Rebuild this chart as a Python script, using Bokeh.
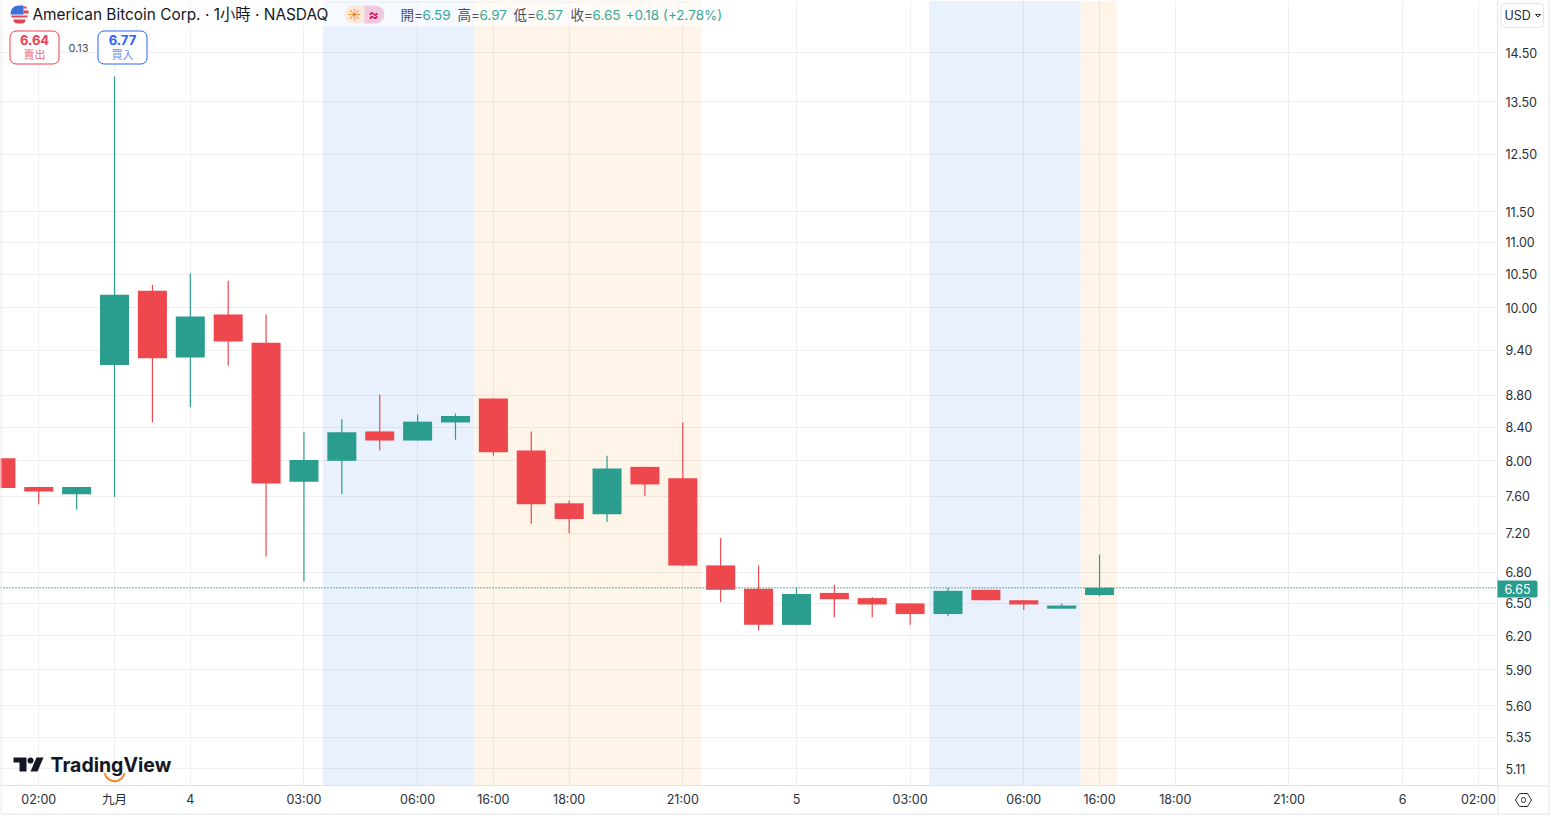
from bokeh.embed import file_html
from bokeh.models import BoxAnnotation, ColumnDataSource, FixedTicker, Label, PolyAnnotation, PrintfTickFormatter, Range1d
from bokeh.plotting import figure
from bokeh.resources import INLINE

bar_index = list(range(30))
opens = [8.03, 7.70, 7.62, 9.20, 9.29, 9.30, 9.52, 9.50, 7.76, 8.00, 8.35, 8.24, 8.46, 8.76, 8.12, 7.52, 7.40, 7.93, 7.80, 6.87,
         6.64, 6.30, 6.60, 6.55, 6.50, 6.40, 6.63, 6.53, 6.45, 6.58]
highs = [8.03, 7.70, 7.70, 14.00, 10.34, 10.51, 10.40, 9.90, 8.34, 8.50, 8.81, 8.56, 8.57, 8.76, 8.35, 7.55, 8.06, 7.93, 8.46, 7.15,
         6.87, 6.65, 6.68, 6.56, 6.50, 6.65, 6.63, 6.53, 6.50, 6.98]
lows = [7.69, 7.51, 7.45, 7.59, 8.46, 8.65, 9.19, 6.96, 6.71, 7.62, 8.12, 8.24, 8.25, 8.06, 7.30, 7.20, 7.32, 7.60, 6.86, 6.51,
        6.25, 6.30, 6.37, 6.37, 6.30, 6.38, 6.53, 6.44, 6.45, 6.57]
closes = [7.69, 7.65, 7.70, 10.19, 10.25, 9.87, 9.90, 7.74, 8.01, 8.34, 8.24, 8.47, 8.54, 8.10, 7.51, 7.35, 7.91, 7.73, 6.87, 6.63,
          6.30, 6.59, 6.54, 6.49, 6.40, 6.62, 6.53, 6.49, 6.48, 6.65]

# the picture's colours don't follow open/close direction, so they are listed bar by bar
bar_up = [0, 0, 1, 1, 0, 1, 0, 0, 1, 1, 0, 1, 1, 0, 0, 0, 1, 0, 0, 0, 0, 1, 0, 0, 0, 1, 0, 0, 1, 1]

price_ticks = [14.5, 13.5, 12.5, 11.5, 11.0, 10.5, 10.0, 9.4, 8.8, 8.4, 8.0, 7.6, 7.2, 6.8, 6.5, 6.2, 5.9, 5.6, 5.35, 5.11]
time_ticks = [1, 3, 5, 8, 11, 13, 15, 18, 21, 24, 27, 29, 31, 34, 37, 39]
time_labels = ["02:00", "九月", "4", "03:00", "06:00", "16:00", "18:00", "21:00", "5", "03:00", "06:00", "16:00", "18:00",
               "21:00", "6", "02:00"]

# pre-market and post-market sessions
pre_market = [(8.5, 12.5), (24.5, 28.5)]
post_market = [(12.5, 18.5), (28.5, 29.45)]
last_price = 6.65

GREEN = "#2a9d8f"
RED = "#ee474d"
INK = "#2a2e39"
BORDER = "#e0e3eb"
FONT = "Inter, 'Noto Sans CJK TC'"

# annotations get clipped to the frame, so the frame fills the page and the axes sit inside it
X_START, X_AXIS = -0.01, 39.504
Y_AXIS, Y_TOP = 4.986, 15.641

p = figure(width=1551, height=820, output_backend="svg", toolbar_location=None, y_axis_type="log",
           y_axis_location="right", x_range=Range1d(X_START, 40.93), y_range=Range1d(4.738, Y_TOP),
           min_border_left=0, min_border_top=0, min_border_right=0, min_border_bottom=0)
p.outline_line_color = None
p.background_fill_color = "white"
p.border_fill_color = "white"

for a, b in pre_market:
    p.add_layout(BoxAnnotation(left=a, right=b, bottom=Y_AXIS, fill_color="#e9f1fe", fill_alpha=1, line_color=None, level="image"))
for a, b in post_market:
    p.add_layout(BoxAnnotation(left=a, right=b, bottom=Y_AXIS, fill_color="#fef4e8", fill_alpha=1, line_color=None, level="image"))

p.xgrid.ticker = FixedTicker(ticks=time_ticks)
p.ygrid.ticker = FixedTicker(ticks=price_ticks)
p.xgrid.cross_bounds = (Y_AXIS, Y_TOP)
p.ygrid.cross_bounds = (X_START, X_AXIS)
p.grid.grid_line_color = "#2a2e39"
p.grid.grid_line_alpha = 0.07
p.grid.grid_line_width = 1

p.xaxis.ticker = FixedTicker(ticks=time_ticks)
p.xaxis.major_label_overrides = dict(zip(time_ticks, time_labels))
p.xaxis.fixed_location = Y_AXIS
p.xaxis.bounds = (X_START, X_AXIS)
p.yaxis.ticker = FixedTicker(ticks=price_ticks)
p.yaxis.formatter = PrintfTickFormatter(format="%.2f")
p.yaxis.fixed_location = X_AXIS
p.yaxis.bounds = (Y_AXIS, Y_TOP)
for ax in (p.xaxis[0], p.yaxis[0]):
    ax.axis_line_color = BORDER
    ax.major_tick_line_color = None
    ax.minor_tick_line_color = None
    ax.major_tick_out = 0
    ax.major_tick_in = 0
    ax.minor_tick_out = 0
    ax.minor_tick_in = 0
    ax.major_label_text_color = INK
    ax.major_label_text_font = FONT
    ax.major_label_text_font_size = "12.5px"
p.yaxis.major_label_standoff = 8
p.xaxis.major_label_standoff = 7

colors = [GREEN if u else RED for u in bar_up]
source = ColumnDataSource(dict(x=bar_index, o=opens, h=highs, l=lows, c=closes, color=colors))
p.segment("x", "h", "x", "l", color="color", line_width=1.2, source=source)
p.vbar("x", 0.766, "o", "c", fill_color="color", line_color=None, source=source)

p.line([X_START, X_AXIS], [last_price, last_price], line_color=GREEN, line_dash=[1, 2], line_width=1.3)


def text(x, y, s, size=13.5, color=INK, align="left", weight="normal"):
    p.add_layout(Label(x=x, y=y, x_units="canvas", y_units="canvas", text=s, text_font=FONT,
                       text_font_size=f"{size}px", text_color=color, text_align=align, text_baseline="middle",
                       text_font_style=weight, level="overlay"))


def box(x0, y0, x1, y1, fill="white", line=None, radius=0, alpha=1.0):
    p.add_layout(BoxAnnotation(left=x0, right=x1, top=y0, bottom=y1, left_units="canvas",
                               right_units="canvas", top_units="canvas", bottom_units="canvas", fill_color=fill,
                               fill_alpha=alpha, line_color=line, line_width=1, line_alpha=1, border_radius=radius,
                               level="overlay"))


def poly(xs, ys, fill=None, line=None, width=1):
    p.add_layout(PolyAnnotation(xs=xs, ys=ys, xs_units="canvas", ys_units="canvas",
                                fill_color=fill, fill_alpha=1 if fill else 0, line_color=line, line_width=width,
                                line_alpha=1, level="overlay"))


# widget frame
box(0, 0, 1, 813, fill=BORDER)
box(1548, 0, 1549, 814, fill=BORDER)
box(0, 813, 1549, 814, fill=BORDER)
box(1497, 785, 1548, 786, fill=BORDER)
box(1497, 785, 1498, 813, fill=BORDER)

# header strip
box(0, 2, 723, 26, fill="white", alpha=0.6)
text(32, 14, "American Bitcoin Corp. · 1小時 · NASDAQ", size=15.4, color="#131722")

# flag
box(10, 5, 28, 23, fill="#f4f4f6", radius=9)
box(10, 5, 23, 14, fill="#3f6fd8", radius=dict(top_left=8, top_right=0, bottom_left=0, bottom_right=0))
box(23, 6, 26, 8, fill="#e0465a")
box(23, 10, 28, 13, fill="#e0465a")
box(11, 15, 27, 17, fill="#e0465a")
box(13, 19, 25, 23, fill="#e0465a", radius=dict(top_left=0, top_right=0, bottom_left=6, bottom_right=6))

# session badge
box(344, 5, 364, 23, fill="#faeadc", radius=dict(top_left=9, top_right=0, bottom_left=9, bottom_right=0))
box(364, 5, 384, 23, fill="#f0c9dd", radius=dict(top_left=0, top_right=9, bottom_left=0, bottom_right=9))
text(354, 14, "☀", size=13, color="#f6871f", align="center")
text(373, 14, "≈", size=15, color="#d5156b", align="center", weight="bold")

# open / high / low / close readout
for x, name, value in [(400, "開=", "6.59"), (457, "高=", "6.97"), (513, "低=", "6.57"), (570, "收=", "6.65")]:
    text(x, 14, name, color="#4a4e59")
    text(x + 22, 14, value, color="#35a796")
text(625, 14, "+0.18 (+2.78%)", color="#35a796")

# bid / ask boxes
box(9.5, 30.5, 58.5, 63.5, line="#ef3e52", radius=6)
text(34, 39.5, "6.64", size=13, color="#ef3e52", align="center", weight="bold")
text(34, 54, "賣出", size=11, color="#f0707e", align="center")
text(78, 47, "0.13", size=11, color="#4a4e59", align="center")
box(97.5, 30.5, 146.5, 63.5, line="#2962ff", radius=6)
text(122, 39.5, "6.77", size=13, color="#2962ff", align="center", weight="bold")
text(122, 54, "買入", size=11, color="#6b90f5", align="center")

# last price tag
box(1497, 580, 1537, 597, fill=GREEN, radius=dict(top_left=0, top_right=2, bottom_left=0, bottom_right=2))
text(1517, 588, "6.65", size=12.5, color="white", align="center")

# currency chip
box(1500.5, 3, 1543, 27, line=BORDER, radius=4)
text(1504, 15, "USD", size=12.5)
poly([1535, 1537.5, 1540], [14, 16.5, 14], line=INK)

# settings icon
poly([1515, 1519, 1527, 1531, 1527, 1519], [799.5, 793, 793, 799.5, 806, 806], line=INK)
box(1521, 797, 1525, 802, fill="white", line=INK, radius=3)

# logo
poly([13, 26, 26, 19, 19, 13], [757, 757, 771, 771, 762, 762], fill="#131722")
box(27, 757, 33, 763, fill="#131722", radius=3)
poly([36, 43, 37, 30], [757, 757, 771, 771], fill="#131722")
text(50, 764, "TradingView", size=19.5, color="#131722", weight="bold")
p.arc(x=[3], y=[5.09], radius=10, radius_units="screen", start_angle=3.3, end_angle=6.1, direction="anticlock",
      color="#f6871f", line_width=2)

open("out.html", "w").write(file_html(p, INLINE))
